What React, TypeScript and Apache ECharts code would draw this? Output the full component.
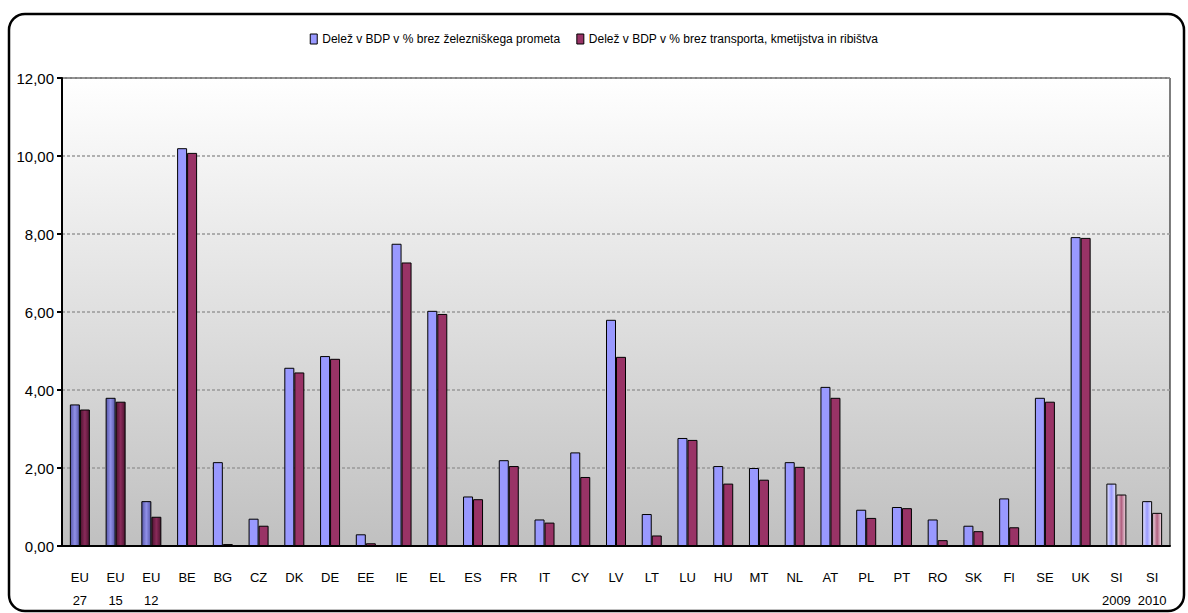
import React, { useEffect, useRef } from "react";
import * as echarts from "echarts";

const categories = ["EU\n27", "EU\n15", "EU\n12", "BE", "BG", "CZ", "DK", "DE", "EE", "IE", "EL", "ES", "FR", "IT", "CY", "LV", "LT", "LU", "HU", "MT", "NL", "AT", "PL", "PT", "RO", "SK", "FI", "SE", "UK", "SI\n2009", "SI\n2010"];
const seriesNames = ["Delež v BDP v % brez železniškega prometa", "Delež v BDP v % brez transporta, kmetijstva in ribištva"];
const valuesA = [3.63, 3.8, 1.15, 10.2, 2.15, 0.7, 4.57, 4.87, 0.3, 7.75, 6.03, 1.27, 2.2, 0.68, 2.4, 5.8, 0.82, 2.77, 2.05, 2.0, 2.15, 4.08, 0.93, 1.0, 0.68, 0.52, 1.22, 3.8, 7.92, 1.6, 1.15];
const valuesB = [3.5, 3.7, 0.75, 10.08, 0.05, 0.52, 4.45, 4.8, 0.07, 7.27, 5.95, 1.2, 2.05, 0.6, 1.77, 4.85, 0.27, 2.72, 1.6, 1.7, 2.03, 3.8, 0.72, 0.97, 0.15, 0.38, 0.48, 3.7, 7.9, 1.32, 0.85];
const aggregateIdx = [0, 1, 2];
const sloveniaIdx = [29, 30];

const FONT = "'Liberation Sans', Arial, sans-serif";

function hGrad(c1: string, c2: string, c3: string) {
  return new echarts.graphic.LinearGradient(0, 0, 1, 0, [
    { offset: 0, color: c1 },
    { offset: 0.5, color: c2 },
    { offset: 1, color: c3 },
  ]);
}

function buildData(values: number[], which: number) {
  return values.map((v, i) => {
    if (aggregateIdx.includes(i)) {
      return {
        value: v,
        itemStyle: {
          color: which === 0 ? hGrad("#5858a8", "#9090e8", "#5858a8") : hGrad("#4e1430", "#8a2a5a", "#4e1430"),
        },
      };
    }
    if (sloveniaIdx.includes(i)) {
      return {
        value: v,
        itemStyle: {
          color: which === 0 ? hGrad("#e6e6ff", "#9a9aff", "#e6e6ff") : hGrad("#f2dce6", "#b06080", "#f2dce6"),
        },
      };
    }
    return v;
  });
}

export default function App() {
  const ref = useRef<HTMLDivElement>(null);
  useEffect(() => {
    document.body.style.margin = "0";
    const chart = echarts.init(ref.current!, null, { renderer: "svg" });
    chart.setOption({
      animation: false,
      backgroundColor: "#ffffff",
      textStyle: { fontFamily: FONT },
      legend: {
        top: 28,
        left: "center",
        icon: "rect",
        itemWidth: 7,
        itemHeight: 10,
        itemGap: 16,
        textStyle: { fontSize: 12, color: "#000", fontFamily: FONT },
        itemStyle: { borderColor: "#000", borderWidth: 1 },
        data: seriesNames,
      },
      graphic: [
        {
          type: "rect",
          shape: { x: 9, y: 14, width: 1175, height: 597, r: 16 },
          style: { fill: "none", stroke: "#000", lineWidth: 2.5 },
          z: 100,
        },
      ],
      grid: {
        left: 62,
        right: 18,
        top: 78,
        bottom: 67,
        show: true,
        borderColor: "#000",
        borderWidth: 1,
        backgroundColor: new echarts.graphic.LinearGradient(0, 0, 0, 1, [
          { offset: 0, color: "#ffffff" },
          { offset: 1, color: "#c0c0c0" },
        ]),
      },
      xAxis: {
        type: "category",
        data: categories,
        axisLine: { lineStyle: { color: "#000", width: 2 } },
        axisTick: { length: 6, lineStyle: { color: "#000", width: 2 } },
        axisLabel: {
          interval: 0,
          color: "#000",
          fontSize: 13,
          lineHeight: 23,
          margin: 20,
          fontFamily: FONT,
        },
      },
      yAxis: {
        type: "value",
        min: 0,
        max: 12,
        interval: 2,
        axisLine: { show: true, lineStyle: { color: "#000", width: 2 } },
        axisTick: { show: true, length: 5, lineStyle: { color: "#000", width: 2 } },
        axisLabel: {
          color: "#000",
          fontSize: 15,
          margin: 8,
          fontFamily: FONT,
          formatter: (v: number) => v.toFixed(2).replace(".", ","),
        },
        splitLine: { lineStyle: { color: "#999", type: [3, 2], width: 1.5 } },
      },
      series: [
        {
          name: seriesNames[0],
          type: "bar",
          data: buildData(valuesA, 0),
          barWidth: 10,
          barGap: "0%",
          itemStyle: { color: "#9999ff", borderColor: "#000", borderWidth: 1 },
        },
        {
          name: seriesNames[1],
          type: "bar",
          data: buildData(valuesB, 1),
          barWidth: 10,
          barGap: "0%",
          itemStyle: { color: "#993366", borderColor: "#000", borderWidth: 1 },
        },
      ],
    });
    return () => chart.dispose();
  }, []);
  return <div ref={ref} style={{ width: 1188, height: 613 }} />;
}
